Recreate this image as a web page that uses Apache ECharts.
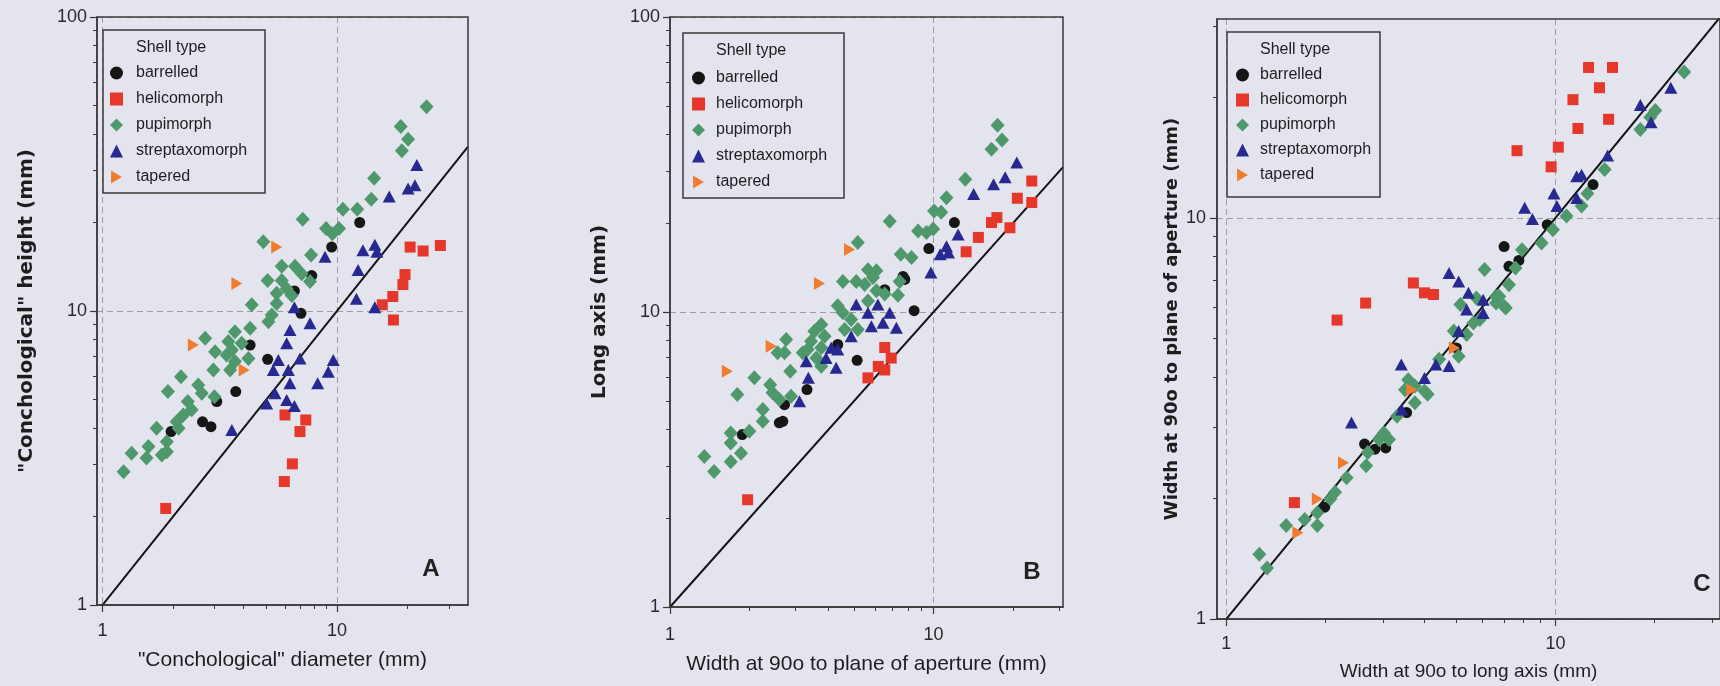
<!DOCTYPE html>
<html>
<head>
<meta charset="utf-8">
<script src="https://cdn.jsdelivr.net/npm/echarts@6/dist/echarts.min.js"></script>
<style>
  html, body { margin: 0; padding: 0; background: #e3e4ee; }
  #chart { width: 1720px; height: 686px; }
</style>
</head>
<body>
<div id="chart"></div>
<script>
// Shell-type categories, in legend order
const shellTypes = ['barrelled', 'helicomorph', 'pupimorph', 'streptaxomorph', 'tapered'];

// Log-axis tick positions
const majorTicks = [1, 10, 100];
const minorTicks = [2, 3, 4, 5, 6, 7, 8, 9, 20, 30, 40, 50, 60, 70, 80, 90];

// Panel A: conchological diameter (x) vs conchological height (y), mm
const aBarrelled = [[12.5,20.0],[9.49,16.5],[7.80,13.2],[6.58,11.7],[7.02,9.82],[4.26,7.66],[5.06,6.85],[3.70,5.32],[3.07,4.92],[2.67,4.20],[2.90,4.04],[1.96,3.89]];
const aHelicomorph = [[1.86,2.13],[5.96,2.63],[6.45,3.02],[6.95,3.89],[7.36,4.26],[6.0,4.43],[17.4,9.32],[15.6,10.5],[17.3,11.2],[19.1,12.3],[19.5,13.3],[20.5,16.5],[23.3,16.0],[27.6,16.7]];
const aPupimorph = [[24.1,49.5],[18.7,42.4],[20.1,38.4],[18.9,35.1],[14.4,28.3],[14.0,24.0],[10.6,22.2],[12.2,22.2],[7.14,20.5],[8.98,19.1],[10.2,19.1],[9.55,18.3],[4.85,17.2],[7.75,15.5],[5.81,14.2],[6.62,14.2],[7.07,13.4],[5.06,12.7],[5.81,12.7],[7.67,12.6],[6.10,11.9],[5.53,11.5],[6.41,11.3],[4.33,10.5],[5.27,9.69],[5.53,10.6],[5.10,9.20],[4.26,8.73],[3.67,8.50],[2.74,8.08],[3.44,7.87],[3.92,7.77],[3.02,7.27],[3.38,7.08],[3.56,7.37],[3.67,6.73],[4.19,6.90],[2.97,6.30],[3.50,6.30],[2.16,5.98],[1.90,5.32],[2.56,5.60],[2.65,5.25],[3.00,5.11],[2.31,4.92],[2.40,4.61],[2.21,4.43],[2.07,4.20],[2.11,3.99],[1.70,3.99],[1.88,3.59],[1.88,3.32],[1.79,3.24],[1.57,3.46],[1.54,3.16],[1.33,3.28],[1.23,2.84]];
const aStreptaxomorph = [[21.9,31.4],[20.1,26.1],[21.5,26.8],[16.7,24.5],[8.89,15.3],[12.9,16.1],[14.5,16.8],[14.8,15.9],[12.3,13.8],[12.1,11.0],[14.5,10.3],[6.58,10.3],[7.67,9.08],[6.30,8.62],[6.10,7.77],[5.62,6.81],[6.95,6.90],[5.35,6.30],[6.20,6.30],[9.64,6.81],[9.18,6.22],[8.27,5.68],[6.30,5.68],[5.44,5.25],[5.01,4.85],[6.10,4.98],[6.58,4.75],[3.56,3.94]];
const aTapered = [[5.53,16.5],[3.74,12.4],[2.44,7.66],[4.02,6.30]];

// Panel B: width at 90o to plane of aperture (x) vs long axis (y), mm
const bBarrelled = [[12.0,20.1],[9.60,16.4],[7.66,13.2],[7.78,12.9],[6.53,11.9],[8.44,10.1],[4.33,7.76],[5.13,6.86],[3.31,5.46],[2.72,4.85],[2.60,4.21],[2.68,4.26],[1.88,3.84]];
const bHelicomorph = [[23.6,27.8],[20.8,24.3],[23.6,23.5],[17.4,20.9],[16.6,20.1],[19.5,19.3],[14.8,17.9],[13.3,16.0],[6.53,7.58],[6.91,6.98],[6.17,6.54],[6.53,6.36],[5.64,5.98],[1.97,2.31]];
const bPupimorph = [[17.5,43.0],[18.2,38.3],[16.6,35.6],[13.2,28.2],[11.2,24.4],[10.05,22.0],[10.7,21.8],[6.82,20.3],[8.74,18.8],[9.40,18.6],[9.97,19.1],[5.16,17.2],[7.51,15.7],[8.25,15.3],[5.64,13.9],[6.07,13.8],[4.53,12.7],[5.09,12.7],[5.48,12.4],[5.89,13.1],[6.07,11.8],[6.53,11.5],[7.44,12.7],[7.33,11.4],[5.64,10.9],[4.33,10.5],[4.53,9.94],[4.87,9.43],[5.16,8.72],[4.60,8.72],[3.75,9.07],[3.53,8.61],[3.86,8.28],[3.43,7.96],[3.75,7.56],[3.33,7.46],[3.59,6.99],[3.75,6.55],[2.76,8.07],[2.56,7.27],[2.72,7.27],[3.19,7.27],[2.86,6.30],[2.09,5.98],[2.40,5.67],[2.45,5.32],[2.60,5.05],[2.88,5.18],[1.80,5.25],[2.25,4.67],[2.25,4.26],[2.00,3.94],[1.70,3.89],[1.70,3.60],[1.86,3.32],[1.70,3.11],[1.35,3.24],[1.47,2.88]];
const bStreptaxomorph = [[20.7,32.1],[16.9,27.1],[18.7,28.6],[14.2,25.1],[12.4,18.3],[11.2,16.7],[10.6,15.7],[11.4,15.9],[9.77,13.6],[5.09,10.6],[6.15,10.6],[5.64,9.94],[6.82,9.94],[5.81,8.95],[6.43,9.19],[7.23,8.84],[4.87,8.28],[4.09,7.56],[4.33,7.46],[3.91,6.99],[4.27,6.47],[3.29,6.81],[3.35,5.98],[3.10,4.98]];
const bTapered = [[4.80,16.3],[3.69,12.5],[2.42,7.66],[1.65,6.30]];

// Panel C: width at 90o to long axis (x) vs width at 90o to plane of aperture (y), mm
const cBarrelled = [[13.0,12.1],[9.44,9.61],[6.98,8.48],[7.22,7.57],[7.74,7.83],[5.00,4.74],[3.53,3.27],[3.05,2.67],[2.83,2.65],[2.63,2.73],[1.99,1.90]];
const cHelicomorph = [[1.61,1.95],[2.17,5.56],[2.65,6.13],[3.70,6.88],[4.00,6.50],[4.26,6.44],[7.64,14.7],[9.70,13.4],[10.2,15.0],[11.7,16.7],[11.3,19.7],[13.6,21.1],[12.6,23.7],[14.9,23.7],[14.5,17.6]];
const cPupimorph = [[24.6,23.1],[20.1,18.5],[19.4,17.8],[18.1,16.6],[14.1,13.2],[12.5,11.5],[12.0,10.7],[10.8,10.1],[9.82,9.34],[9.07,8.65],[7.91,8.33],[6.09,7.43],[7.22,6.81],[7.56,7.50],[6.60,6.37],[6.98,6.02],[5.14,6.08],[5.75,6.31],[6.75,6.37],[7.06,5.96],[6.60,6.13],[5.89,5.58],[5.63,5.47],[4.91,5.22],[5.37,5.12],[5.08,4.52],[4.43,4.44],[3.57,3.95],[3.74,3.81],[3.49,3.73],[4.00,3.70],[3.74,3.46],[4.09,3.63],[3.30,3.20],[3.01,2.91],[3.12,2.80],[2.91,2.80],[2.69,2.60],[2.66,2.41],[2.32,2.25],[2.14,2.07],[2.07,1.99],[1.89,1.84],[1.89,1.71],[1.73,1.77],[1.52,1.71],[1.26,1.45],[1.33,1.34]];
const cStreptaxomorph = [[22.4,21.1],[18.1,19.1],[19.5,17.3],[14.4,14.3],[11.6,12.7],[12.0,12.8],[9.89,11.5],[10.1,10.7],[11.6,11.2],[8.06,10.6],[8.51,9.93],[4.75,7.29],[5.08,6.94],[5.44,6.50],[6.03,6.25],[6.03,5.79],[5.37,5.91],[5.08,5.22],[3.40,4.31],[4.33,4.31],[4.75,4.27],[4.00,3.99],[3.41,3.33],[2.40,3.09]];
const cTapered = [[4.93,4.74],[3.66,3.73],[2.27,2.45],[1.65,1.64],[1.89,1.99]];

const FONT = '"Liberation Sans", Arial, sans-serif';
const TITLE_FONT = '"DejaVu Sans", Verdana, sans-serif';
const INK = '#1e1e1e';
const FRAME = '#3a3a3a';

// Right-pointing triangle used for the "tapered" marker
const RIGHT_TRIANGLE = 'path://M0,0L10,6L0,12Z';

const markerStyles = {
  barrelled:      { symbol: 'circle',       symbolSize: 11,       color: '#161616' },
  helicomorph:    { symbol: 'rect',         symbolSize: 11,       color: '#e6372b' },
  pupimorph:      { symbol: 'diamond',      symbolSize: [14, 15], color: '#4e986b' },
  streptaxomorph: { symbol: 'triangle',     symbolSize: [13, 12], color: '#272890' },
  tapered:        { symbol: RIGHT_TRIANGLE, symbolSize: [11, 13], color: '#f07c30' }
};

const panels = [
  {
    letter: 'A', letterPos: [431, 569],
    series: [aBarrelled, aHelicomorph, aPupimorph, aStreptaxomorph, aTapered],
    grid: { left: 97, top: 17, width: 371, height: 588 },
    xRange: [0.947, 36.2], yRange: [1, 100],
    xName: '"Conchological" diameter (mm)', xNameSize: 21, xNameGap: 45, xLabelMargin: 17,
    yName: '"Conchological" height (mm)', yNameSize: 20, yNameGap: 60, yLabelMargin: 10,
    legendBox: [103, 30, 162, 163], legendPos: [110, 65], legendGap: 10, legendTextPad: 8
  },
  {
    letter: 'B', letterPos: [1032, 572],
    series: [bBarrelled, bHelicomorph, bPupimorph, bStreptaxomorph, bTapered],
    grid: { left: 670, top: 17, width: 393, height: 590 },
    xRange: [1, 31], yRange: [1, 100],
    xName: 'Width at 90o to plane of aperture (mm)', xNameSize: 21, xNameGap: 47, xLabelMargin: 19,
    yName: 'Long axis (mm)', yNameSize: 20, yNameGap: 60, yLabelMargin: 10,
    legendBox: [683, 33, 161, 165], legendPos: [692, 70], legendGap: 10, legendTextPad: 6
  },
  {
    letter: 'C', letterPos: [1702, 584],
    series: [cBarrelled, cHelicomorph, cPupimorph, cStreptaxomorph, cTapered],
    grid: { left: 1217, top: 19, width: 516, height: 601 },
    xRange: [0.937, 31.6], yRange: [1, 31.3],
    xName: 'Width at 90o to long axis (mm)', xNameSize: 19, xNameGap: 43, xLabelMargin: 16,
    yName: 'Width at 90o to plane of aperture (mm)', yNameSize: 18, yNameGap: 36, yLabelMargin: 11,
    legendBox: [1227, 32, 153, 165], legendPos: [1236, 67], legendGap: 9, legendTextPad: 6
  }
];

function majorAxis(dim, p, gridIndex) {
  const isX = dim === 'x';
  const range = isX ? p.xRange : p.yRange;
  return {
    type: 'log', logBase: 10, gridIndex,
    min: range[0], max: range[1],
    position: isX ? 'bottom' : 'left',
    name: isX ? p.xName : p.yName,
    nameLocation: 'middle',
    nameGap: isX ? p.xNameGap : p.yNameGap,
    nameTextStyle: isX
      ? { fontFamily: FONT, fontSize: p.xNameSize, color: INK }
      : { fontFamily: TITLE_FONT, fontSize: p.yNameSize, fontWeight: 'bold', color: INK },
    axisLine: { show: true, onZero: false, lineStyle: { color: FRAME, width: 1.5 } },
    axisTick: { show: true, customValues: majorTicks, length: 7, lineStyle: { color: FRAME, width: 1.2 } },
    axisLabel: {
      customValues: majorTicks,
      margin: isX ? p.xLabelMargin : p.yLabelMargin,
      fontFamily: FONT, fontSize: 18, color: '#2a2a2a'
    },
    splitLine: { show: true, lineStyle: { color: '#9d9da8', width: 1, type: [6, 4] } }
  };
}

function minorAxis(dim, p, gridIndex) {
  const isX = dim === 'x';
  const range = isX ? p.xRange : p.yRange;
  return {
    type: 'log', logBase: 10, gridIndex,
    min: range[0], max: range[1],
    position: isX ? 'bottom' : 'left',
    axisLine: { show: false },
    axisTick: { show: true, customValues: minorTicks, length: 4, lineStyle: { color: FRAME, width: 1 } },
    axisLabel: { show: false },
    splitLine: { show: false }
  };
}

// Legend entries reuse each series' marker shape
const legendEntries = shellTypes.map(name => ({ name, icon: markerStyles[name].symbol }));

const grids = [], xAxes = [], yAxes = [], series = [], legends = [], graphics = [];

panels.forEach((p, gi) => {
  grids.push(Object.assign({
    show: true, z: 5, backgroundColor: 'transparent',
    borderColor: FRAME, borderWidth: 1.5, containLabel: false
  }, p.grid));

  const axisIndex = xAxes.length;
  xAxes.push(majorAxis('x', p, gi), minorAxis('x', p, gi));
  yAxes.push(majorAxis('y', p, gi), minorAxis('y', p, gi));

  // 1:1 reference line across the panel
  series.push({
    type: 'line', xAxisIndex: axisIndex, yAxisIndex: axisIndex,
    data: [[p.xRange[0], p.xRange[0]], [p.xRange[1], p.xRange[1]]],
    showSymbol: false, silent: true, clip: true, z: 3,
    lineStyle: { color: '#141414', width: 2 }
  });

  shellTypes.forEach((name, si) => {
    const m = markerStyles[name];
    series.push({
      type: 'scatter', name,
      xAxisIndex: axisIndex, yAxisIndex: axisIndex,
      data: p.series[si],
      symbol: m.symbol, symbolSize: m.symbolSize, symbolKeepAspect: false,
      itemStyle: { color: m.color, opacity: 1 },
      z: 4 + si * 0.01
    });
  });

  legends.push({
    data: legendEntries,
    orient: 'vertical',
    left: p.legendPos[0], top: p.legendPos[1],
    padding: 0,
    itemWidth: 13, itemHeight: 13, itemGap: p.legendGap,
    selectedMode: false,
    textStyle: { fontFamily: FONT, fontSize: 16, color: INK, padding: [0, 0, 0, p.legendTextPad] }
  });

  const [bx, by, bw, bh] = p.legendBox;
  graphics.push({
    type: 'rect', z: 10, silent: true,
    shape: { x: bx, y: by, width: bw, height: bh },
    style: { fill: 'none', stroke: FRAME, lineWidth: 1.5 }
  });
  graphics.push({
    type: 'text', z: 10, silent: true,
    x: p.legendPos[0] + 18 + p.legendTextPad, y: by + 18,
    style: { text: 'Shell type', fontFamily: FONT, fontSize: 16, fill: INK, verticalAlign: 'middle', align: 'left' }
  });
  graphics.push({
    type: 'text', z: 10, silent: true,
    x: p.letterPos[0], y: p.letterPos[1],
    style: { text: p.letter, fontFamily: FONT, fontSize: 24, fontWeight: 'bold', fill: '#222', align: 'center', verticalAlign: 'middle' }
  });
});

const chart = echarts.init(document.getElementById('chart'), null, { renderer: 'canvas' });
chart.setOption({
  animation: false,
  backgroundColor: '#e3e4ee',
  grid: grids,
  xAxis: xAxes,
  yAxis: yAxes,
  legend: legends,
  series,
  graphic: graphics
});
</script>
</body>
</html>
